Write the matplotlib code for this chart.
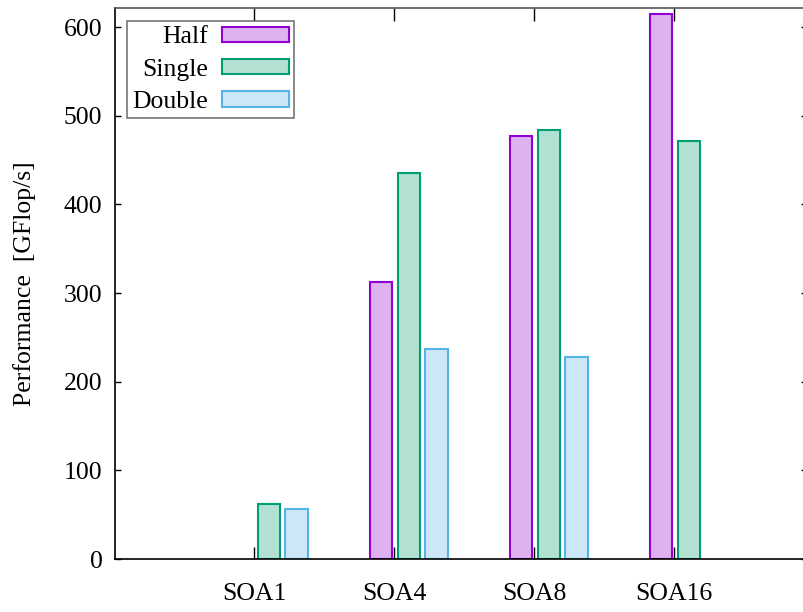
import matplotlib.pyplot as plt
import numpy as np
from matplotlib.patches import Patch
from matplotlib.colors import to_rgb

plt.rcParams['font.family'] = ['Liberation Serif', 'DejaVu Serif']

categories = ['SOA1', 'SOA4', 'SOA8', 'SOA16']
half = [np.nan, 312, 477, 615]
single = [62, 435, 484, 471]
double = [56, 237, 228, np.nan]

series = [
    ('Half', half, '#9400d3'),
    ('Single', single, '#009e73'),
    ('Double', double, '#56b4e9'),
]
offsets = [-0.093, 0.107, 0.304]
width = 0.16
fs = 18.5

fig = plt.figure(figsize=(8.04, 6.12), dpi=100)
ax = fig.add_axes([115 / 804, 53 / 612, 692 / 804, 551 / 612])

x = np.arange(len(categories))
for (name, vals, col), off in zip(series, offsets):
    ax.bar(x + off, vals, width, color=col, alpha=0.3, edgecolor='none')
    ax.bar(x + off, vals, width, facecolor='none', edgecolor=col, linewidth=1.5)

# legend samples: light fill with a full-colour outline
handles = [Patch(facecolor=(*to_rgb(c), 0.3), edgecolor=c, linewidth=1.5)
           for _, _, c in series]
leg = ax.legend(handles, [s[0] for s in series], loc='upper left', bbox_to_anchor=(0.0173, 0.976),
                markerfirst=False, fontsize=fs, frameon=True, fancybox=False,
                handlelength=2.6, handleheight=0.55, labelspacing=0.4, borderpad=0.2,
                handletextpad=0.55, borderaxespad=0)
leg.get_frame().set_edgecolor('#555555')
leg.get_frame().set_linewidth(1.2)
leg._legend_box.align = 'right'
for t in leg.get_texts():
    t.set_ha('right')

ax.set_xlim(-0.993, 3.95)
ax.set_ylim(0, 621.5)
ax.set_xticks(x)
ax.set_xticklabels(categories)
ax.set_yticks(np.arange(0, 601, 100))
ax.tick_params(axis='x', direction='in', length=9, width=1, top=True, labelsize=fs, pad=17)
ax.tick_params(axis='y', direction='in', length=4, width=1, right=True, labelsize=fs, pad=9)
ax.set_ylabel('Performance  [GFlop/s]', fontsize=fs, labelpad=20)
for s in ax.spines.values():
    s.set_linewidth(1.2)
ax.spines['top'].set_color('#555555')

fig.savefig('out.png', dpi=100)
